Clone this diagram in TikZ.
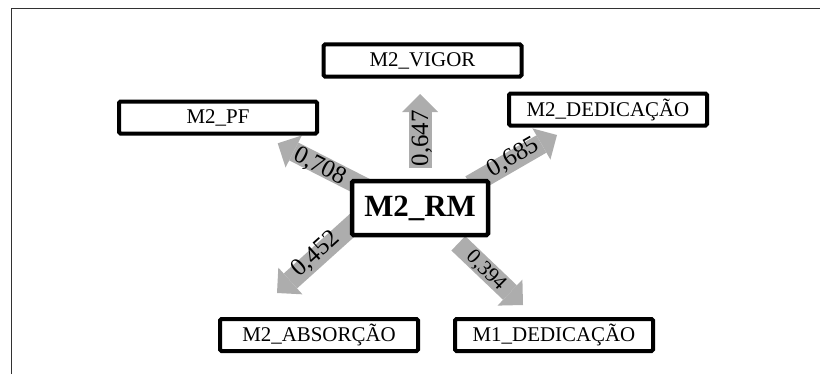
\documentclass[tikz,border=0pt]{standalone}
\usepackage{fontspec}
\setmainfont{Liberation Serif}
\usetikzlibrary{arrows.meta,calc,backgrounds}
\definecolor{arrowgray}{RGB}{173,173,173}
\definecolor{framegray}{RGB}{50,50,50}

\begin{document}
\begin{tikzpicture}[x=1bp,y=1bp,
  box/.style={draw,line width=4bp,rounded corners=1.5bp,fill=white,minimum width=198bp,minimum height=32bp,inner sep=0pt,font=\fontsize{21}{24}\selectfont},
  load/.style={arrowgray,line width=20bp,-{Triangle[width=36bp,length=18bp,line width=0pt]}},
  val/.style={inner sep=0pt,font=\fontsize{25}{28}\selectfont}]
\useasboundingbox (0,0) rectangle (820,374);
\draw[framegray,line width=1.5bp] (11.7,0) -- (11.7,365.7) -- (820,365.7);

\node[box] (pf) at (218,256.5) {M2\_PF};
\node[box] (vigor) at (422.5,313.5) {M2\_VIGOR};
\node[box] (dedic2) at (608,264.5) {M2\_DEDICAÇÃO};
\node[box] (absor) at (319,39) {M2\_ABSORÇÃO};
\node[box] (dedic1) at (554,39) {M1\_DEDICAÇÃO};
\node[box,line width=4.5bp,minimum width=136bp,minimum height=54bp,font=\bfseries\fontsize{31}{34}\selectfont] (rm) at (420,166) {M2\_RM};

\coordinate (tip708) at (277.7,230.7);
\coordinate (tip647) at (420,280);
\coordinate (tip685) at (557,239);
\coordinate (tip452) at (277,81);
\coordinate (tip394) at (523,69);
\begin{scope}[on background layer]
\draw[load] ($(rm)+(-48.7,17)$) -- (tip708);
\draw[load,line width=23bp] ($(rm)+(0,40)$) -- (tip647);
\draw[load] ($(rm)+(50.4,23)$) -- (tip685);
\draw[load] ($(rm)+(-61.3,-11.4)$) -- (tip452);
\draw[load] ($(rm)+(38.3,-35.3)$) -- (tip394);
\end{scope}

\node[val,rotate=-27] (v708) at (320,207.3) {0,708};
\node[val,rotate=90] (v647) at (421.7,235.7) {0,647};
\node[val,rotate=30] (v685) at (513.3,216.5) {0,685};
\node[val,rotate=42] (v452) at (315.8,119.8) {0,452};
\node[val,rotate=-45,font=\fontsize{21}{24}\selectfont] (v394) at (485.8,103.2) {0,394};
\end{tikzpicture}
\end{document}
